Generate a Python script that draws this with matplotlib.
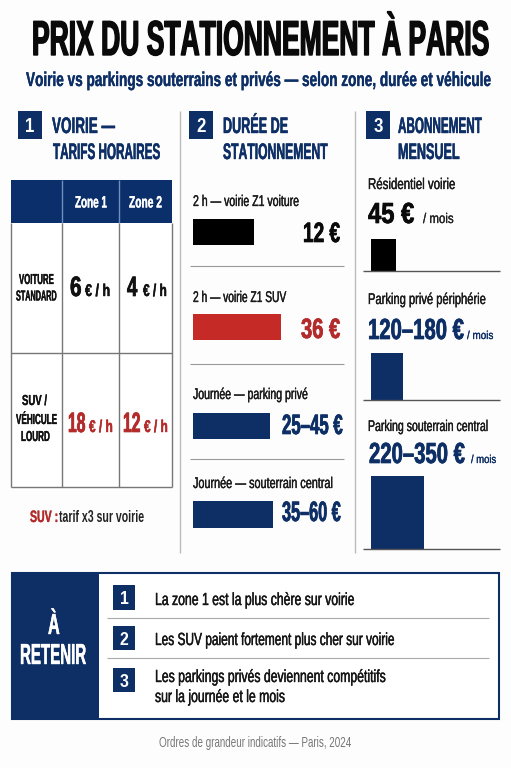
import string
import matplotlib
matplotlib.use("Agg")
import matplotlib.pyplot as plt
from matplotlib import font_manager as fm
from matplotlib.font_manager import FontProperties
from matplotlib.patches import Rectangle
from matplotlib.patheffects import withStroke
from matplotlib.textpath import TextPath
from fontTools.ttLib import TTFont
from fontTools import subset

# ---------- data ----------
title = "PRIX DU STATIONNEMENT À PARIS"
subtitle = "Voirie vs parkings souterrains et privés — selon zone, durée et véhicule"
zones = ["Zone 1", "Zone 2"]
vehicles = [["VOITURE", "STANDARD"], ["SUV /", "VÉHICULE", "LOURD"]]
hourly_rates = [[6, 4], [18, 12]]
duration_labels = ["2 h — voirie Z1 voiture", "2 h — voirie Z1 SUV",
                   "Journée — parking privé", "Journée — souterrain central"]
duration_values = ["12 €", "36 €", "25–45 €", "35–60 €"]
duration_bars = [61, 88, 77, 80]
monthly_labels = ["Résidentiel voirie", "Parking privé périphérie", "Parking souterrain central"]
monthly_values = ["45 €", "120–180 €", "220–350 €"]
monthly_bar_heights = [32, 47, 73]
monthly_bar_widths = [25, 32, 53]
takeaways = [["La zone 1 est la plus chère sur voirie"],
             ["Les SUV paient fortement plus cher sur voirie"],
             ["Les parkings privés deviennent compétitifs", "sur la journée et le mois"]]

# ---------- style ----------
NAVY, RED, BARRED, INK = "#0d2f66", "#b32b2b", "#c62a26", "#111111"

# ---------- condensed fonts: horizontally scaled copies of Liberation Sans ----------
CHARS = string.printable + "éèÉÀ€—–"
SRC = {}
for key, weight in (("b", "bold"), ("r", "normal")):
    path = fm.findfont(FontProperties(family="Liberation Sans", weight=weight))
    f = TTFont(path)
    opts = subset.Options()
    opts.hinting = False
    opts.layout_features = []
    opts.notdef_outline = True
    sub = subset.Subsetter(opts)
    sub.populate(text=CHARS)
    sub.subset(f)
    for tag in ("kern", "GPOS", "GSUB", "GDEF"):
        if tag in f:
            del f[tag]
    out = f"base_{key}.ttf"
    f.save(out)
    SRC[key] = out
CACHE = {}


def condensed(key, sx):
    sx = round(sx * 50) / 50
    if (key, sx) in CACHE:
        return CACHE[(key, sx)]
    f = TTFont(SRC[key])
    glyf, hmtx = f["glyf"], f["hmtx"]
    for name in f.getGlyphOrder():
        g = glyf[name]
        if g.isComposite():
            for c in g.components:
                c.x = round(c.x * sx)
        elif g.numberOfContours > 0:
            co = g.coordinates
            for i in range(len(co)):
                co[i] = (round(co[i][0] * sx), co[i][1])
        adv, lsb = hmtx[name]
        hmtx[name] = (round(adv * sx), round(lsb * sx))
    out = f"cond_{key}_{int(sx * 100)}.ttf"
    f.save(out)
    CACHE[(key, sx)] = FontProperties(fname=out)
    return CACHE[(key, sx)]


# ---------- canvas in pixel coordinates ----------
fig = plt.figure(figsize=(5.11, 7.68), dpi=100, facecolor="#fdfdfd")
ax = fig.add_axes([0, 0, 1, 1])
ax.set_xlim(0, 511)
ax.set_ylim(768, 0)
ax.axis("off")


def T(s, x0, x1, base, em, color=INK, w="b", stroke=0.0):
    bb = TextPath((0, 0), s, size=em, prop=FontProperties(fname=SRC[w])).get_extents()
    prop = condensed(w, (x1 - x0) / bb.width)
    t = ax.text(x0, base, s, fontproperties=prop, fontsize=em * 0.72, color=color,
                ha="left", va="baseline", zorder=5)
    if stroke:
        t.set_path_effects([withStroke(linewidth=stroke, foreground=color)])
    return t


def hline(y, x0, x1, c="#999999", lw=0.8):
    ax.plot([x0, x1], [y, y], color=c, lw=lw, solid_capstyle="butt", zorder=3)


def vline(x, y0, y1, c="#999999", lw=0.8):
    ax.plot([x, x], [y0, y1], color=c, lw=lw, solid_capstyle="butt", zorder=3)


def box(x0, y0, x1, y1, **kw):
    ax.add_patch(Rectangle((x0, y0), x1 - x0, y1 - y0, **kw))


def badge(x0, y0, x1, y1, s, em=20):
    box(x0, y0, x1, y1, fc=NAVY, ec="none", zorder=2)
    ax.text((x0 + x1) / 2, (y0 + y1) / 2 + em * 0.35, s, fontproperties=condensed("b", 0.85),
            fontsize=em * 0.72, color="white", ha="center", va="baseline", zorder=5)


# ---------- header ----------
T(title, 32, 488, 55, 49, "#0a0a0a", stroke=1.0)
T(subtitle, 26, 495, 86, 20, NAVY, stroke=0.25)

for x0, num in zip((18, 189, 366), "123"):
    badge(x0, 111, x0 + 24, 139, num)
T("VOIRIE —", 52, 114, 133, 22.5, NAVY, stroke=0.3)
T("TARIFS HORAIRES", 53, 161, 159, 22.5, NAVY, stroke=0.3)
T("DURÉE DE", 223, 287, 133, 22.5, NAVY, stroke=0.3)
T("STATIONNEMENT", 223, 326, 159, 22.5, NAVY, stroke=0.3)
T("ABONNEMENT", 398, 483, 133, 22.5, NAVY, stroke=0.3)
T("MENSUEL", 398, 458, 159, 22.5, NAVY, stroke=0.3)

vline(180, 111, 553, "#bbbbbb", 1.0)
vline(355, 111, 553, "#bbbbbb", 1.0)

# ---------- section 1: table ----------
L, C1, C2, R, TOP, HEAD, MID, BOT = 10.7, 61.7, 119, 171.7, 179.5, 223, 353, 486.7
box(L, TOP, R, BOT, fc="white", ec="none", zorder=1)
box(L, TOP, R, HEAD, fc="#0a2f6b", ec="none", zorder=2)
for x in (L, C1, C2, R):
    vline(x, HEAD, BOT, "#777777", 1.0)
for x in (C1, C2):
    vline(x, TOP, HEAD, "#6f8fc0", 1.0)
hline(BOT, L, R, "#777777", 1.0)
hline(MID, L, R, "#777777", 1.0)

T(zones[0], 75, 106, 207.5, 16.5, "white", stroke=0.2)
T(zones[1], 129, 161, 207.5, 16.5, "white", stroke=0.2)

T(vehicles[0][0], 19, 53, 284, 14.5, stroke=0.2)
T(vehicles[0][1], 16, 56, 300.5, 14.5, stroke=0.2)
T(vehicles[1][0], 22, 47, 405, 14.5, stroke=0.2)
T(vehicles[1][1], 16, 56, 424, 14.5, stroke=0.2)
T(vehicles[1][2], 21, 49, 441, 14.5, stroke=0.2)

rate_boxes = [[(70, 80, 85, 109), (127, 137, 143, 166)], [(68, 84, 89, 112), (123, 139, 144, 167)]]
for r, base, col in ((0, 296, INK), (1, 432, RED)):
    for c in (0, 1):
        a, b, d, e = rate_boxes[r][c]
        T(str(hourly_rates[r][c]), a, b, base, 28, col, stroke=0.5)
        T("€ / h", d, e, base, 17, col, stroke=0.3)

T("SUV :", 30, 57, 522, 16.5, RED, stroke=0.2)
T("tarif x3 sur voirie", 59, 143, 522, 16.5, "#222222", w="b")

# ---------- section 2: durations ----------
dur_label_base = [206, 302, 399, 488]
dur_label_x1 = [298, 285, 308, 331]
dur_bar_y = [(219, 245), (314, 340), (413, 439), (501, 528)]
dur_colors = ["#000000", BARRED, NAVY, NAVY]
dur_text_colors = ["#0a0a0a", RED, NAVY, NAVY]
dur_val_x = [(303, 339), (301, 339), (282, 341), (282, 341)]
dur_val_base = [242, 338, 434, 521]
for i in range(4):
    T(duration_labels[i], 193, dur_label_x1[i], dur_label_base[i], 15.5, "#1a1a1a", w="r", stroke=0.25)
    y0, y1 = dur_bar_y[i]
    ax.barh((y0 + y1) / 2, duration_bars[i], height=y1 - y0, left=193, color=dur_colors[i], zorder=2)
    T(duration_values[i], dur_val_x[i][0], dur_val_x[i][1], dur_val_base[i], 28, dur_text_colors[i], stroke=0.5)
for y in (266, 364, 459):
    hline(y, 190, 344)

# ---------- section 3: monthly ----------
mon_label_base = [189, 304, 431]
mon_label_x1 = [455, 484, 488]
mon_val_x = [(368, 414), (368, 461), (369, 463)]
mon_val_base = [223, 339, 463]
mon_unit_x = [(423, 453), (467, 493), (471, 496)]
mon_unit_em = [14, 11.5, 11.5]
mon_base = [271, 400, 549]
mon_colors = ["#000000", NAVY, NAVY]
mon_text = ["#0a0a0a", NAVY, NAVY]
for i in range(3):
    T(monthly_labels[i], 368, mon_label_x1[i], mon_label_base[i], 15.5, "#1a1a1a", w="r", stroke=0.25)
    T(monthly_values[i], mon_val_x[i][0], mon_val_x[i][1], mon_val_base[i], 29, mon_text[i], stroke=0.5)
    T("/ mois", mon_unit_x[i][0], mon_unit_x[i][1], mon_val_base[i], mon_unit_em[i], "#222222" if i == 0 else NAVY, w="r", stroke=0.2)
    ax.bar(371, -monthly_bar_heights[i], width=monthly_bar_widths[i], bottom=mon_base[i],
           align="edge", color=mon_colors[i], zorder=2)
    hline(mon_base[i], 363, 500, "#555555", 1.0)

# ---------- takeaway box ----------
box(12, 573, 499, 719, fc="white", ec=NAVY, lw=1.5, zorder=1)
box(12, 573, 99, 719, fc=NAVY, ec="none", zorder=2)
T("À", 48, 59, 634, 29, "white", stroke=0.3)
T("RETENIR", 20, 86, 664, 29, "white", stroke=0.3)

badge_y = [(585, 610), (626, 650), (668, 692)]
take_x1 = [[353], [395], [386, 283]]
take_base = [[605], [645], [682, 702]]
for i, lines in enumerate(takeaways):
    badge(113, badge_y[i][0], 135, badge_y[i][1], str(i + 1), em=19)
    for s, x1, b in zip(lines, take_x1[i], take_base[i]):
        T(s, 155, x1, b, 17.5, "#151515", w="r", stroke=0.3)
hline(618, 107, 489, "#aaaaaa", 0.8)
hline(658, 107, 489, "#aaaaaa", 0.8)

T("Ordres de grandeur indicatifs — Paris, 2024", 159, 349, 747, 14.5, "#777777", w="r")

fig.savefig("out.png", dpi=100, facecolor=fig.get_facecolor())
